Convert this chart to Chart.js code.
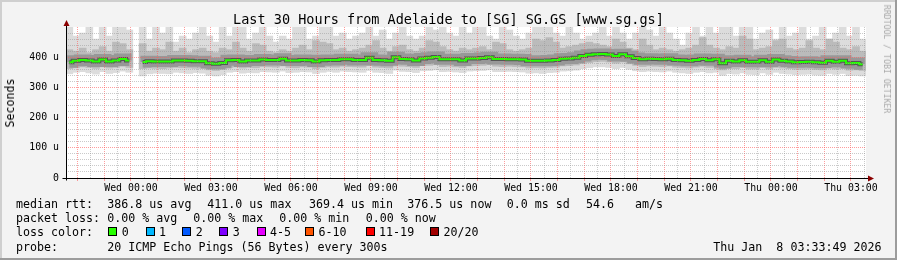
<!DOCTYPE html>
<html>
<head>
<meta charset="utf-8">
<script src="https://cdn.jsdelivr.net/npm/chart.js@4.4.1/dist/chart.umd.min.js"></script>
<style>
  html, body { margin: 0; padding: 0; background: #f3f3f3; }
  #wrap { position: relative; width: 897px; height: 260px; overflow: hidden; font-family: 'DejaVu Sans Mono', monospace; color: #000; }
  #wrap canvas { position: absolute; left: 0; top: 0; }
  .t { position: absolute; white-space: pre; font-size: 11.65px; line-height: 14px; }
  .box { position: absolute; width: 9px; height: 9px; box-sizing: border-box; border: 1px solid #000; }
  #title { position: absolute; left: 0; width: 897px; top: 11px; text-align: center; font-size: 13.5px; line-height: 16px; white-space: pre; }
  #ylab { position: absolute; left: 10px; top: 103px; font-size: 11.65px; transform: translate(-50%, -50%) rotate(-90deg); white-space: pre; }
  #stamp { position: absolute; left: 887px; top: 59px; font-size: 8.2px; color: #a8a8a8; transform: translate(-50%, -50%) rotate(90deg); white-space: pre; }
</style>
</head>
<body>
<div id="wrap">
  <canvas id="chart" width="897" height="260"></canvas>
  <div id="title">Last 30 Hours from Adelaide to [SG] SG.GS [www.sg.gs]</div>
  <div id="ylab">Seconds</div>
  <div id="stamp">RRDTOOL / TOBI OETIKER</div>
  <div id="legend"></div>
</div>
<script>
// window: Tue 21:33:49 -> Thu 03:33:49, x axis in hours since Tue 00:00
const startHour = 21 + 33 / 60 + 49 / 3600;
const spanHours = 30;
const stepHours = 0.25;

const tickLabels = ['Wed 00:00', 'Wed 03:00', 'Wed 06:00', 'Wed 09:00', 'Wed 12:00',
                    'Wed 15:00', 'Wed 18:00', 'Wed 21:00', 'Thu 00:00', 'Thu 03:00'];
const tickHours = [24, 27, 30, 33, 36, 39, 42, 45, 48, 51];

// median rtt per 15 minute column (us), null = no data
const median = [
  383, 388, 391, 389, 386, 392, 386, 389, 394, 389,
  null, 384, 387, 386, 386, 386, 389, 389, 388, 387,
  387, 380, 378, 381, 390, 391, 386, 389, 389, 392,
  391, 391, 395, 389, 389, 391, 390, 386, 390, 391,
  391, 393, 393, 391, 391, 398, 391, 390, 388, 400,
  394, 393, 389, 396, 398, 401, 393, 393, 393, 389,
  396, 396, 397, 400, 394, 394, 393, 393, 392, 388,
  388, 388, 389, 391, 395, 396, 398, 404, 408, 410,
  411, 409, 404, 410, 403, 397, 393, 395, 394, 393,
  395, 391, 390, 388, 391, 394, 390, 393, 380, 388,
  386, 390, 385, 385, 390, 385, 392, 388, 386, 383,
  384, 385, 383, 382, 388, 385, 388, 380, 381, 377
];

// smoke: outer (light) band top/bottom and inner (mid) band top/bottom
const smokeTop = [
  500, 470, 480, 500, 460, 500, 470, 500, 500, 490,
  null, 500, 460, 500, 480, 500, 450, 470, 460, 480,
  500, 470, 450, 500, 470, 500, 500, 460, 480, 500,
  470, 450, 470, 460, 500, 500, 460, 470, 500, 500,
  470, 480, 460, 470, 480, 500, 470, 490, 460, 480,
  500, 470, 460, 470, 500, 490, 500, 480, 470, 500,
  480, 500, 500, 470, 460, 500, 490, 470, 460, 480,
  500, 500, 500, 480, 470, 500, 480, 460, 470, 480,
  500, 470, 500, 480, 460, 480, 500, 490, 470, 500,
  480, 460, 440, 480, 500, 470, 500, 480, 500, 500,
  470, 500, 500, 460, 480, 490, 460, 500, 470, 480,
  500, 460, 470, 500, 460, 480, 500, 470, 500, 460
];
const smokeUpper = [
  425, 420, 430, 415, 425, 435, 420, 450, 445, 425,
  null, 445, 420, 430, 425, 450, 420, 430, 415, 425,
  430, 420, 415, 430, 425, 450, 430, 420, 445, 440,
  420, 415, 425, 420, 430, 440, 425, 455, 450, 445,
  425, 430, 420, 425, 430, 440, 455, 430, 420, 435,
  440, 425, 420, 430, 455, 450, 435, 425, 420, 430,
  425, 430, 435, 425, 450, 445, 425, 420, 425, 430,
  460, 455, 465, 450, 430, 435, 440, 445, 450, 445,
  440, 435, 460, 450, 430, 425, 460, 440, 425, 430,
  425, 420, 425, 430, 440, 465, 440, 430, 425, 435,
  430, 470, 460, 425, 430, 435, 455, 460, 430, 425,
  430, 455, 430, 425, 460, 450, 430, 425, 435, 420
];
const smokeLower = [
  362, 365, 368, 366, 363, 368, 364, 366, 370, 366,
  null, 362, 364, 363, 362, 364, 366, 365, 364, 363,
  364, 358, 356, 359, 366, 368, 364, 366, 365, 369,
  368, 367, 371, 366, 365, 368, 367, 362, 366, 368,
  367, 370, 369, 368, 367, 372, 367, 366, 364, 374,
  370, 369, 366, 372, 373, 375, 369, 370, 368, 366,
  371, 372, 373, 375, 370, 369, 370, 369, 368, 364,
  365, 364, 366, 367, 371, 372, 374, 379, 382, 385,
  386, 384, 380, 384, 378, 373, 369, 371, 370, 369,
  371, 367, 366, 364, 367, 370, 366, 368, 358, 364,
  362, 366, 361, 361, 366, 361, 367, 364, 362, 360,
  360, 361, 359, 358, 364, 361, 364, 357, 358, 356
];
const smokeBottom = [
  345, 350, 352, 348, 344, 352, 346, 349, 354, 350,
  null, 338, 345, 347, 346, 345, 350, 348, 346, 349,
  347, 340, 338, 342, 350, 352, 347, 349, 348, 352,
  351, 350, 354, 349, 350, 352, 351, 346, 350, 353,
  350, 354, 352, 351, 350, 356, 350, 349, 346, 357,
  353, 352, 349, 355, 356, 358, 352, 353, 351, 349,
  354, 355, 356, 358, 352, 352, 353, 352, 351, 347,
  348, 346, 349, 350, 354, 355, 357, 362, 365, 368,
  368, 366, 362, 366, 360, 355, 352, 354, 352, 351,
  354, 350, 348, 346, 350, 352, 348, 350, 340, 346,
  344, 348, 343, 342, 348, 343, 350, 346, 344, 342,
  343, 344, 341, 340, 346, 343, 346, 339, 340, 338
];

const lossNames = ['0', '1', '2', '3', '4-5', '6-10', '11-19', '20/20'];
const lossColors = ['#26ff00', '#00b8ff', '#0059ff', '#7e00ff', '#e600ff', '#ff5500', '#ff0000', '#a10000'];

const colX = i => startHour + (i + 0.5) * stepHours;

function band(lo, hi) {
  const out = [];
  lo.forEach((v, i) => {
    if (v != null && hi[i] != null) out.push({ x: colX(i), y: [v, hi[i]] });
  });
  return out;
}
const medianPts = median.map((v, i) => ({ x: colX(i), y: v }));

const RED = 'rgba(255,90,90,0.6)';
const GRAY = 'rgba(150,150,150,0.5)';
const NONE = 'rgba(0,0,0,0)';
const isHour = v => Math.abs(v - Math.round(v)) < 1e-6;
const gridTicks = [];
for (let h = Math.ceil(startHour * 2) / 2; h <= startHour + spanHours; h += 0.5) gridTicks.push(h);

const framePlugin = {
  id: 'frame',
  beforeDraw(chart) {
    const { ctx, chartArea: a } = chart;
    ctx.save();
    ctx.fillStyle = '#f3f3f3';
    ctx.fillRect(0, 0, chart.width, chart.height);
    ctx.fillStyle = '#fff';
    ctx.fillRect(a.left, a.top, a.right - a.left, a.bottom - a.top);
    ctx.fillStyle = '#cfcfcf';
    ctx.fillRect(0, 0, chart.width, 2);
    ctx.fillRect(0, 0, 2, chart.height);
    ctx.fillStyle = '#9c9c9c';
    ctx.fillRect(0, chart.height - 2, chart.width, 2);
    ctx.fillRect(chart.width - 2, 0, 2, chart.height);
    ctx.restore();
  },
  afterDraw(chart) {
    const { ctx, chartArea: a } = chart;
    const x0 = Math.round(a.left) + 0.5, y0 = Math.round(a.bottom) + 0.5;
    ctx.save();
    ctx.strokeStyle = '#000';
    ctx.lineWidth = 1;
    ctx.beginPath();
    ctx.moveTo(x0, y0 + 2); ctx.lineTo(x0, a.top - 3);
    ctx.moveTo(x0 - 4, y0); ctx.lineTo(a.right + 3, y0);
    ctx.stroke();
    ctx.fillStyle = '#8b0000';
    ctx.beginPath();
    ctx.moveTo(x0 - 3, a.top - 1); ctx.lineTo(x0 + 3, a.top - 1); ctx.lineTo(x0, a.top - 7);
    ctx.closePath(); ctx.fill();
    ctx.beginPath();
    ctx.moveTo(a.right + 2, y0 - 3); ctx.lineTo(a.right + 2, y0 + 3); ctx.lineTo(a.right + 8, y0);
    ctx.closePath(); ctx.fill();
    ctx.restore();
  }
};

Chart.defaults.font.family = "'DejaVu Sans Mono', monospace";
Chart.defaults.color = '#000';

new Chart(document.getElementById('chart'), {
  type: 'bar',
  data: {
    datasets: [
      { type: 'line', data: medianPts, borderColor: '#26ff00', borderWidth: 2, pointRadius: 0,
        stepped: 'middle', spanGaps: false, order: 0 },
      { type: 'line', data: medianPts, borderColor: 'rgba(40,40,40,0.6)', borderWidth: 4, pointRadius: 0,
        stepped: 'middle', spanGaps: false, order: 1 },
      { type: 'line', data: medianPts, borderColor: 'rgba(100,100,100,0.4)', borderWidth: 11, pointRadius: 0,
        stepped: 'middle', spanGaps: false, order: 2 },
      { data: band(smokeLower, smokeUpper), backgroundColor: '#bbbbbb', order: 3 },
      { data: band(smokeBottom, smokeTop), backgroundColor: '#dcdcdc', order: 4 }
    ]
  },
  options: {
    responsive: false,
    animation: false,
    events: [],
    layout: { padding: { top: 27, right: 31, left: 0, bottom: 0 } },
    datasets: { bar: { grouped: false, barThickness: 7, borderWidth: 0 } },
    plugins: { legend: { display: false }, tooltip: { enabled: false }, title: { display: false } },
    scales: {
      x: {
        type: 'linear',
        offset: false,
        min: startHour,
        max: startHour + spanHours,
        afterFit: s => { s.height = 82; },
        afterBuildTicks: s => { s.ticks = gridTicks.map(v => ({ value: v })); },
        grid: {
          z: 1,
          offset: false,
          color: c => !c.tick ? NONE : (isHour(c.tick.value) ? RED : GRAY),
          tickColor: c => (c.tick && isHour(c.tick.value)) ? RED : NONE,
          tickLength: 3
        },
        border: { display: false, dash: [1, 1] },
        ticks: {
          autoSkip: false, maxRotation: 0, padding: 1,
          font: { size: 9.9 },
          callback: v => {
            const k = tickHours.findIndex(h => Math.abs(h - v) < 1e-6);
            return k < 0 ? '' : tickLabels[k];
          }
        }
      },
      y: {
        min: 0,
        max: 500,
        afterFit: s => { s.width = 66; },
        grid: {
          z: 1,
          drawTicks: false,
          color: c => (!c.tick || c.tick.value === 0 || c.tick.value === 500) ? NONE
            : (c.tick.value % 100 === 0 ? RED : GRAY)
        },
        border: { display: false, dash: [1, 1] },
        ticks: {
          stepSize: 20, padding: 7, autoSkip: false,
          font: { size: 9.9 },
          callback: v => (v % 100 === 0 && v < 500) ? (v === 0 ? '0' : v + ' u') : ''
        }
      }
    }
  },
  plugins: [framePlugin]
});

// legend block under the graph
const legend = document.getElementById('legend');
function put(text, x, y) {
  const d = document.createElement('div');
  d.className = 't';
  d.style.left = x + 'px';
  d.style.top = y + 'px';
  d.textContent = text;
  legend.appendChild(d);
}
put('median rtt:', 16, 197);
put('386.8 us avg', 107.3, 197);
put('411.0 us max', 207.3, 197);
put('369.4 us min', 309, 197);
put('376.5 us now', 407.3, 197);
put('0.0 ms sd', 506.7, 197);
put('54.6', 586, 197);
put('am/s', 635, 197);

put('packet loss:', 16, 211);
put('0.00 % avg', 107.3, 211);
put('0.00 % max', 193.3, 211);
put('0.00 % min', 279.3, 211);
put('0.00 % now', 365.7, 211);

put('loss color:', 16, 224.5);
const boxX = [108.3, 145.7, 182.3, 219.3, 256.7, 305, 365.7, 430];
lossNames.forEach((name, i) => {
  const b = document.createElement('div');
  b.className = 'box';
  b.style.left = boxX[i] + 'px';
  b.style.top = '227px';
  b.style.background = lossColors[i];
  legend.appendChild(b);
  put(name, boxX[i] + 13.4, 224.5);
});

put('probe:', 16, 239.5);
put('20 ICMP Echo Pings (56 Bytes) every 300s', 107.3, 239.5);
put('Thu Jan  8 03:33:49 2026', 713.3, 239.5);
</script>
</body>
</html>
